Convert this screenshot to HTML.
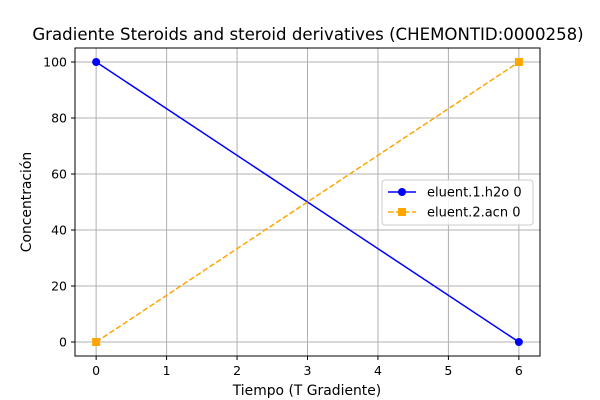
<!DOCTYPE html>
<html><head><meta charset="utf-8"><style>
html,body{margin:0;padding:0;background:#fff;}
svg{display:block;font-family:"DejaVu Sans","Liberation Sans",sans-serif;}
</style></head><body>
<svg id="chart" width="600" height="400" viewBox="0 0 600 400">
<rect width="600" height="400" fill="#fff"/>
<text x="308" y="40" font-size="16.6" text-anchor="middle" fill="#000">Gradiente Steroids and steroid derivatives (CHEMONTID:0000258)</text>
<g id="grid"></g>
<g id="ticks"></g>
<g id="series"></g>
<rect x="75" y="48" width="465" height="308" fill="none" stroke="#000" stroke-width="1"/>
<text x="307" y="395" font-size="13.9" text-anchor="middle">Tiempo (T Gradiente)</text>
<text x="31" y="202" font-size="13.9" text-anchor="middle" transform="rotate(-90 31 202)">Concentración</text>
<g>
<rect x="382" y="180" width="151" height="45" rx="3" fill="#fff" fill-opacity="0.8" stroke="#ccc"/>
<g>
<line x1="388" y1="192" x2="416" y2="192" stroke="blue" stroke-width="1.5"/>
<circle cx="402" cy="192" r="4" fill="blue"/>
<text x="427" y="196.5" font-size="13">eluent.1.h2o 0</text>
</g>
<g>
<line x1="388" y1="212" x2="416" y2="212" stroke="orange" stroke-width="1.5" stroke-dasharray="5.5,2.5"/>
<rect x="398" y="208" width="8" height="8" fill="orange"/>
<text x="427" y="216.5" font-size="13">eluent.2.acn 0</text>
</g>
</g>
</svg>
<script>
const xTicks=[0,1,2,3,4,5,6];
const yTicks=[0,20,40,60,80,100];
const times=[0,6];
const h2o=[100,0];
const acn=[0,100];
const NS="http://www.w3.org/2000/svg";
function xs(v){return 75+(v+0.3)/6.6*465;}
function ys(v){return 356-(v+5)/110*308;}
function mk(tag,attrs,parent){const e=document.createElementNS(NS,tag);for(const k in attrs)e.setAttribute(k,attrs[k]);parent.appendChild(e);return e;}
const grid=document.getElementById('grid'),ticks=document.getElementById('ticks'),series=document.getElementById('series');
xTicks.forEach(t=>{const x=xs(t);
 const g=mk('line',{x1:x,x2:x,y1:48,y2:356,stroke:'#b0b0b0','stroke-width':1},grid);
 
 
 mk('line',{x1:x,x2:x,y1:356,y2:360,stroke:'#000'},ticks);
 const l=mk('text',{x:x,y:375,'font-size':12.5,'text-anchor':'middle'},ticks);l.textContent=t;
 
 
});
yTicks.forEach(t=>{const y=ys(t);
 const g=mk('line',{x1:75,x2:540,y1:y,y2:y,stroke:'#b0b0b0','stroke-width':1},grid);
 
 
 mk('line',{x1:71,x2:75,y1:y,y2:y,stroke:'#000'},ticks);
 const l=mk('text',{x:67,y:y+4.5,'font-size':12.5,'text-anchor':'end'},ticks);l.textContent=t;
 
 
});
function pts(arr){return times.map((t,i)=>xs(t)+','+ys(arr[i])).join(' ');}
const l1=mk('polyline',{points:pts(h2o),fill:'none',stroke:'blue','stroke-width':1.5},series);


const l2=mk('polyline',{points:pts(acn),fill:'none',stroke:'orange','stroke-width':1.5,'stroke-dasharray':'5.5,2.5'},series);


times.forEach((t,i)=>{
 const c=mk('circle',{cx:xs(t),cy:ys(h2o[i]),r:4,fill:'blue'},series);
 
 
 const r=mk('rect',{x:xs(t)-4,y:ys(acn[i])-4,width:8,height:8,fill:'orange'},series);
 
 
});
</script>
</body></html>
